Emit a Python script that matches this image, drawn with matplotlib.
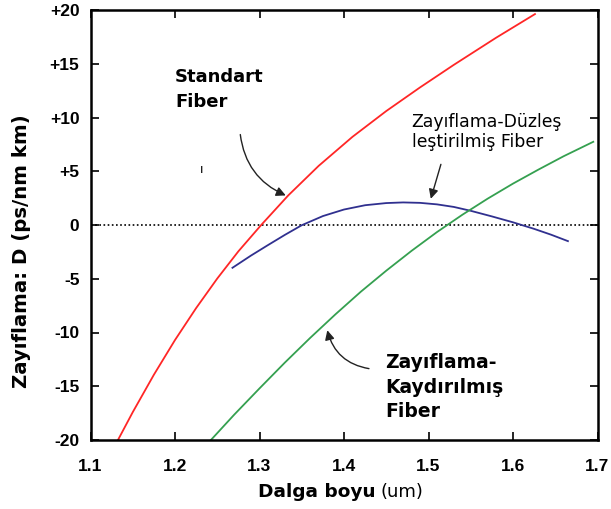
import matplotlib
matplotlib.use("Agg")
import matplotlib.pyplot as plt

plt.rcParams['font.family'] = ['DejaVu Sans']

# Standard fiber (red)
std_x = [1.1325, 1.15, 1.175, 1.20, 1.225, 1.25, 1.275, 1.302, 1.334, 1.37, 1.41,
         1.45, 1.49, 1.53, 1.58, 1.626]
std_y = [-20, -17.41, -13.93, -10.7, -7.73, -4.98, -2.45, 0.0, 2.75, 5.5, 8.2,
         10.6, 12.8, 14.9, 17.42, 19.62]
# Dispersion-flattened fiber (blue)
flat_x = [1.268, 1.29, 1.31, 1.33, 1.35, 1.375, 1.40, 1.425, 1.45, 1.47, 1.49,
          1.51, 1.53, 1.55, 1.575, 1.60, 1.625, 1.645, 1.665]
flat_y = [-3.98, -2.84, -1.87, -0.92, -0.02, 0.83, 1.44, 1.84, 2.04, 2.1, 2.06,
          1.92, 1.68, 1.32, 0.8, 0.25, -0.36, -0.9, -1.5]
# Dispersion-shifted fiber (green)
shift_x = [1.2425, 1.27, 1.30, 1.33, 1.36, 1.39, 1.42, 1.45, 1.48, 1.51, 1.54,
           1.57, 1.60, 1.63, 1.66, 1.695]
shift_y = [-20, -17.65, -15.2, -12.8, -10.5, -8.3, -6.2, -4.25, -2.4, -0.66, 0.95,
           2.45, 3.85, 5.15, 6.4, 7.74]

xticks = [1.1, 1.2, 1.3, 1.4, 1.5, 1.6, 1.7]
xtick_labels = ['1.1', '1.2', '1.3', '1.4', '1.5', '1.6', '1.7']
yticks = [-20, -15, -10, -5, 0, 5, 10, 15, 20]
ytick_labels = ['-20', '-15', '-10', '-5', '0', '+5', '+10', '+15', '+20']

fig = plt.figure(figsize=(6.11, 5.09), dpi=100)
ax = fig.add_axes([90.5/611, 1-440/509, (597.5-90.5)/611, (440-10)/509])

ax.axhline(0, color='black', lw=1.2, ls=(0, (1, 1.5)), zorder=1)
ax.plot(std_x, std_y, color='#ff2626', lw=1.3)
ax.plot(flat_x, flat_y, color='#30308f', lw=1.3)
ax.plot(shift_x, shift_y, color='#35a050', lw=1.3)

ax.set_xlim(1.1, 1.7)
ax.set_ylim(-20, 20)
tick_font = dict(fontweight='bold', fontsize=12.5, family=['Liberation Sans', 'DejaVu Sans'])
ax.set_xticks(xticks)
ax.set_xticklabels(xtick_labels, **tick_font)
ax.set_yticks(yticks)
ax.set_yticklabels(ytick_labels, **tick_font)
ax.tick_params(direction='in', length=6, width=1.2, top=True, right=True)
ax.tick_params(axis='x', pad=14)
ax.tick_params(axis='y', pad=8)
for s in ax.spines.values():
    s.set_linewidth(1.8)

ax.text(1.2, 14.6, "Standart\nFiber", fontweight='bold', fontsize=13,
        ha='left', va='top', linespacing=1.5)
ax.text(1.48, 10.4, "Zayıflama-Düzleş\nleştirilmiş Fiber", fontsize=12.4,
        ha='left', va='top', linespacing=1.15)
ax.text(1.4485, -11.9, "Zayıflama-\nKaydırılmış\nFiber", fontweight='bold', fontsize=13.5,
        ha='left', va='top', linespacing=1.38)
ax.text(1.2316, 5.2, "ı", fontsize=9, ha='center', va='center')

ax.annotate("", xy=(1.3341, 2.65), xytext=(1.2769, 8.67),
            arrowprops=dict(arrowstyle='-|>', color='#222222', lw=1.0,
                            connectionstyle='arc3,rad=0.3', mutation_scale=14))
ax.annotate("", xy=(1.5018, 2.19), xytext=(1.5156, 5.89),
            arrowprops=dict(arrowstyle='-|>', color='#222222', lw=1.0,
                            mutation_scale=14))
ax.annotate("", xy=(1.3795, -9.54), xytext=(1.4328, -13.4),
            arrowprops=dict(arrowstyle='-|>', color='#222222', lw=1.0,
                            connectionstyle='arc3,rad=-0.35', mutation_scale=14))

fig.text(375/611, 1-492/509, "Dalga boyu", fontweight='bold', fontsize=13.3,
         ha='right', va='center')
fig.text(381/611, 1-492/509, "(um)", fontsize=13, ha='left', va='center')
fig.text(22/611, 1-251/509, "Zayıflama: D (ps/nm km)", fontweight='bold', fontsize=14.2,
         rotation=90, ha='center', va='center')

fig.savefig("out.png", dpi=100)
